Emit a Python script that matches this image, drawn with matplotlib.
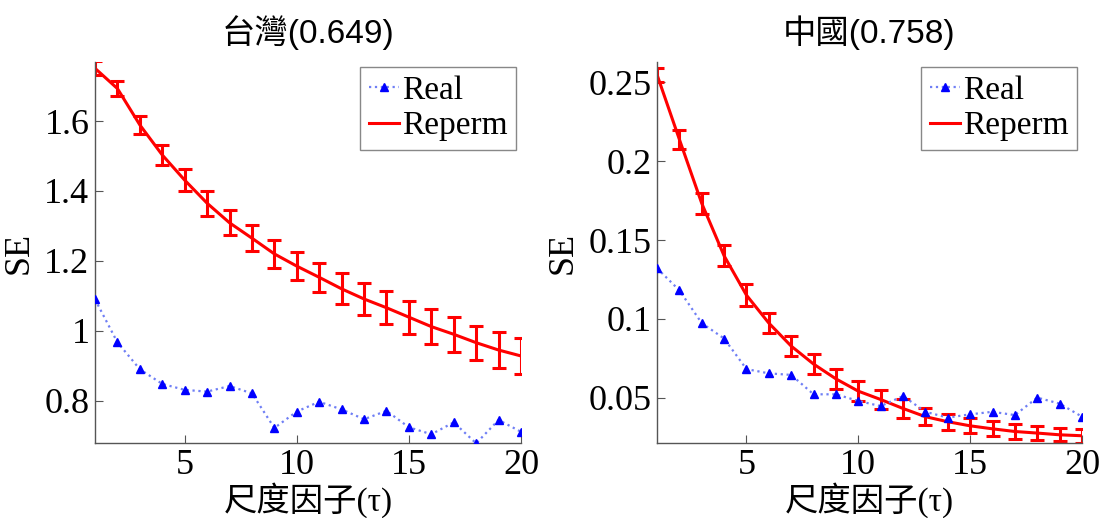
import numpy as np
import matplotlib
matplotlib.use("Agg")
import matplotlib.pyplot as plt
from matplotlib.ticker import FuncFormatter
from matplotlib.lines import Line2D

# scale factor tau
tau = np.arange(1, 21)

# Taiwan
tw_real = [1.090, 0.967, 0.890, 0.848, 0.831, 0.826, 0.842, 0.821, 0.722, 0.769,
           0.797, 0.775, 0.747, 0.771, 0.724, 0.704, 0.738, 0.678, 0.745, 0.711]
tw_reperm = [1.751, 1.693, 1.589, 1.503, 1.431, 1.365, 1.309, 1.265, 1.220, 1.185,
             1.153, 1.120, 1.091, 1.066, 1.039, 1.012, 0.990, 0.966, 0.945, 0.928]
tw_err = [0.020, 0.022, 0.026, 0.028, 0.032, 0.036, 0.036, 0.038, 0.040, 0.041,
          0.042, 0.044, 0.045, 0.047, 0.047, 0.049, 0.050, 0.049, 0.051, 0.051]

# China
cn_real = [0.1321, 0.1181, 0.0973, 0.0875, 0.0681, 0.0654, 0.0644, 0.0521, 0.0521, 0.0479,
           0.0446, 0.0510, 0.0410, 0.0373, 0.0394, 0.0410, 0.0389, 0.0500, 0.0462, 0.0379]
cn_reperm = [0.2550, 0.2139, 0.1733, 0.1400, 0.1150, 0.0973, 0.0827, 0.0713, 0.0619, 0.0541,
             0.0488, 0.0431, 0.0379, 0.0347, 0.0321, 0.0302, 0.0285, 0.0275, 0.0264, 0.0258]
cn_err = [0.0044, 0.0060, 0.0068, 0.0066, 0.0068, 0.0064, 0.0064, 0.0063, 0.0063, 0.0065,
          0.0059, 0.0063, 0.0052, 0.0052, 0.0047, 0.0047, 0.0045, 0.0044, 0.0042, 0.0044]

titles = ['台灣(0.649)', '中國(0.758)']
ylims = [(0.679, 1.769), (0.0212, 0.263)]
yticks = [[0.8, 1.0, 1.2, 1.4, 1.6], [0.05, 0.1, 0.15, 0.2, 0.25]]

serif = ['Liberation Serif', 'DejaVu Serif']
label_font = ['Liberation Serif', 'Noto Sans CJK TC']

fig = plt.figure(figsize=(11.17, 5.18), dpi=100)
W, H = 1117, 518
boxes = [(95, 62, 521, 443), (657, 62, 1082, 443)]

data = [(tw_real, tw_reperm, tw_err), (cn_real, cn_reperm, cn_err)]

real_color = '#6f7ff5'

for i, (real, reperm, err) in enumerate(data):
    x0, y0, x1, y1 = boxes[i]
    ax = fig.add_axes([x0 / W, 1 - y1 / H, (x1 - x0) / W, (y1 - y0) / H])

    ax.plot(tau, real, linestyle=':', color=real_color, linewidth=1.6,
            marker='^', markersize=6, markerfacecolor='blue', markeredgecolor='blue',
            zorder=3)
    ax.errorbar(tau, reperm, yerr=err, color='red', linewidth=2.2, elinewidth=2.2,
                capsize=5, capthick=2.2, zorder=2)

    ax.set_xlim(1, 20)
    ax.set_ylim(*ylims[i])
    ax.set_xticks([5, 10, 15, 20])
    ax.set_yticks(yticks[i])
    ax.yaxis.set_major_formatter(FuncFormatter(lambda v, p: '%g' % v))

    for s in ['top', 'right']:
        ax.spines[s].set_visible(False)
    for s in ['left', 'bottom']:
        ax.spines[s].set_color('#555555')
        ax.spines[s].set_linewidth(1.0)
    ax.tick_params(direction='in', length=6, color='#555555', labelsize=26, pad=4)
    for lab in ax.get_xticklabels() + ax.get_yticklabels():
        lab.set_family(serif)

    ax.set_title(titles[i], fontsize=24, family=['Liberation Sans', 'Noto Sans CJK TC'], pad=14)
    ax.set_ylabel('SE', fontsize=26, family=serif, labelpad=6)
    ax.set_xlabel('尺度因子(τ)', fontsize=24, family=label_font, va='center')
    ax.xaxis.set_label_coords(0.5, -(500 - y1) / (y1 - y0))

    handles = [
        Line2D([], [], linestyle=':', color=real_color, linewidth=1.6, marker='^',
               markersize=6, markerfacecolor='blue', markeredgecolor='blue'),
        Line2D([], [], color='red', linewidth=2.2),
    ]
    ax.legend(handles, ['Real', 'Reperm'], loc='upper right',
              prop={'family': serif, 'size': 24}, fancybox=False, framealpha=1,
              edgecolor='#888888', handlelength=0.9, handletextpad=0.1,
              borderpad=0.25, labelspacing=0.15, borderaxespad=0.15)

fig.savefig('out.png', dpi=100)
